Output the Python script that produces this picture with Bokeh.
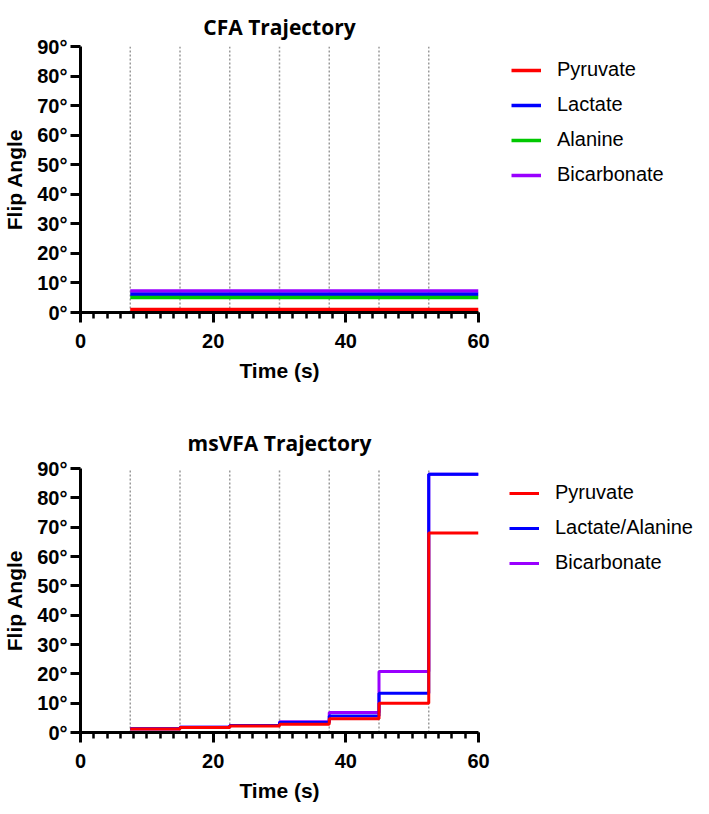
from bokeh.plotting import figure
from bokeh.models import FixedTicker, Legend, LegendItem, Range1d
from bokeh.layouts import column
from bokeh.embed import file_html
from bokeh.resources import INLINE

# ---------------- data ----------------
time_edges = [7.5, 15, 22.5, 30, 37.5, 45, 52.5, 60]
grid_times = [7.5, 15, 22.5, 30, 37.5, 45, 52.5]
x_ticks = [0, 20, 40, 60]
x_minor = list(range(0, 61, 2))
y_ticks = [0, 10, 20, 30, 40, 50, 60, 70, 80, 90]
y_tick_labels = ["0°", "10°", "20°", "30°", "40°", "50°", "60°", "70°", "80°", "90°"]

cfa_start, cfa_end = 7.5, 60
cfa_names = ["Pyruvate", "Lactate", "Alanine", "Bicarbonate"]
cfa_values = [1.0, 6.2, 5.1, 7.3]
cfa_colors = ["#ff0000", "#0000ff", "#00c800", "#9900ff"]

vfa_names = ["Pyruvate", "Lactate/Alanine", "Bicarbonate"]
vfa_pyruvate = [1.2, 1.7, 2.2, 2.8, 4.7, 10.0, 68.0]
vfa_lactate_alanine = [1.3, 1.8, 2.4, 3.4, 5.6, 13.4, 88.0]
vfa_bicarbonate = [1.3, 1.8, 2.4, 3.7, 6.8, 20.8, 88.0]
vfa_colors = ["#ff0000", "#0000ff", "#9900ff"]

TICK_FONT = "Liberation Sans"
LABEL_FONT = "Liberation Sans"
TITLE_FONT = "Open Sans"


def make_fig(title, border_top, border_bottom, frame_h, title_standoff):
    p = figure(output_backend="svg", toolbar_location=None,
               frame_width=398, frame_height=frame_h,
               x_range=Range1d(0, 60), y_range=Range1d(0, 90),
               min_border_left=0, min_border_right=0,
               min_border_top=border_top, min_border_bottom=border_bottom,
               title=title)
    p.outline_line_color = None
    p.xgrid.visible = False
    p.ygrid.visible = False
    p.title.align = "center"
    p.title.text_font = TITLE_FONT
    p.title.text_font_size = "21px"
    p.title.text_font_style = "bold"
    p.title.text_color = "black"
    p.title.standoff = title_standoff

    p.xaxis.ticker = FixedTicker(ticks=x_ticks, minor_ticks=x_minor)
    p.yaxis.ticker = FixedTicker(ticks=y_ticks, minor_ticks=[])
    p.yaxis.major_label_overrides = {t: l for t, l in zip(y_ticks, y_tick_labels)}
    for ax in (p.xaxis, p.yaxis):
        ax.axis_line_width = 3
        ax.axis_line_color = "black"
        ax.major_tick_line_width = 3
        ax.major_tick_line_color = "black"
        ax.minor_tick_line_width = 2.5
        ax.minor_tick_line_color = "black"
        ax.major_tick_in = 0
        ax.minor_tick_in = 0
        ax.major_tick_out = 10
        ax.minor_tick_out = 6
        ax.major_label_text_font = TICK_FONT
        ax.major_label_text_font_size = "20px"
        ax.major_label_text_font_style = "bold"
        ax.major_label_text_color = "black"
        ax.axis_label_text_font = LABEL_FONT
        ax.axis_label_text_font_size = "21px"
        ax.axis_label_text_font_style = "bold"
        ax.axis_label_text_color = "black"
    p.xaxis.major_label_standoff = 11
    p.yaxis.major_label_standoff = 3
    p.xaxis.axis_label = "Time (s)"
    p.yaxis.axis_label = "Flip Angle"
    p.xaxis.axis_label_standoff = 8
    p.yaxis.axis_label_standoff = 8

    p.segment(x0=grid_times, x1=grid_times, y0=[0] * len(grid_times), y1=[90] * len(grid_times),
              line_color="#9a9a9a", line_width=1.5, line_dash="2 2")
    return p


def style_legend(legend):
    legend.glyph_width = 30
    legend.glyph_height = 20
    legend.label_height = 20
    legend.spacing = 12
    legend.label_standoff = 16
    legend.padding = 0
    legend.margin = 0
    legend.border_line_alpha = 0
    legend.background_fill_alpha = 0
    legend.label_text_font = LABEL_FONT
    legend.label_text_font_size = "20px"
    legend.label_text_color = "black"


# ---------------- CFA ----------------
p1 = make_fig("CFA Trajectory", 46, 79, 266, 12)
renderers = {}
draw_order = [3, 1, 2, 0]
for i in draw_order:
    renderers[i] = p1.line(x=[cfa_start, cfa_end], y=[cfa_values[i], cfa_values[i]],
                           line_color=cfa_colors[i], line_width=3.5)
items1 = [LegendItem(label=cfa_names[i], renderers=[renderers[i]]) for i in range(4)]
leg1 = Legend(items=items1, location=(33, 126))
style_legend(leg1)
p1.add_layout(leg1, "right")
p1.min_border_right = 215

# ---------------- msVFA ----------------
p2 = make_fig("msVFA Trajectory", 77, 0, 264, 24)
vfa_series = [vfa_pyruvate, vfa_lactate_alanine, vfa_bicarbonate]
r2 = {}
for i in [2, 1, 0]:
    vals = vfa_series[i]
    r2[i] = p2.step(x=time_edges, y=vals + [vals[-1]], mode="after",
                    line_color=vfa_colors[i], line_width=3)
items2 = [LegendItem(label=vfa_names[i], renderers=[r2[i]]) for i in range(3)]
leg2 = Legend(items=items2, location=(31, 158))
style_legend(leg2)
p2.add_layout(leg2, "right")
p2.min_border_right = 215

layout = column(p1, p2, spacing=0)
open("out.html", "w").write(file_html(layout, INLINE))
